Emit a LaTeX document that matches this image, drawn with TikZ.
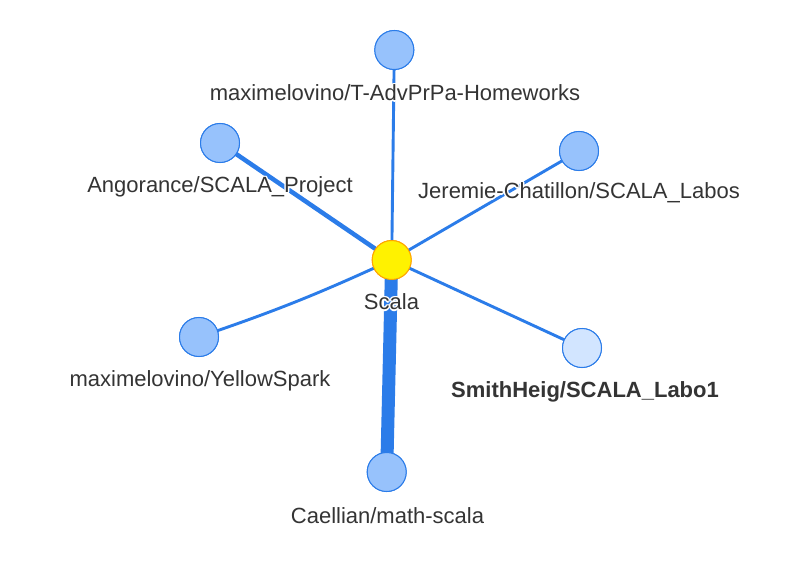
\documentclass[tikz,border=0pt]{standalone}
\usepackage{fontspec}
\setmainfont{Liberation Sans}
\definecolor{edgeblue}{HTML}{2B7CE9}
\definecolor{nodefill}{HTML}{97C2FC}
\definecolor{nodelight}{HTML}{D2E5FF}
\definecolor{txt}{HTML}{343434}
\definecolor{ybord}{HTML}{FFA500}
\tikzset{
  edge/.style={draw=edgeblue, line width=2.9pt},
  repo/.style={circle, draw=edgeblue, fill=nodefill, line width=1pt, minimum size=39pt, inner sep=0pt},
  repolight/.style={repo, fill=nodelight},
  hub/.style={circle, draw=ybord, fill=yellow, line width=1pt, minimum size=39pt, inner sep=0pt},
  lab/.style={text=txt, font=\fontsize{22}{25}\selectfont, inner sep=0pt, anchor=center},
}
\newcommand{\halolabel}[3]{%
  \foreach \dx/\dy in {1.4/0,-1.4/0,0/1.4,0/-1.4,1/1,-1/1,1/-1,-1/-1}
    \node[lab,text=white] at ([shift={(\dx pt,\dy pt)}]#2) {#3};
  \node[lab] (#1) at (#2) {#3};}
\begin{document}
\begin{tikzpicture}[x=1pt,y=-1pt]
\useasboundingbox[fill=white] (0,0) rectangle (791,561);
\coordinate (pc) at (391.7,260);
\coordinate (pt) at (394.3,50);
\coordinate (pa) at (220,143);
\coordinate (pj) at (579,151);
\coordinate (py) at (199,337);
\coordinate (ps) at (582,348);
\coordinate (pm) at (386.7,472);
% node shapes (for naming)
\node[hub] (c) at (pc) {};
\node[repo] (t) at (pt) {};
\node[repo] (a) at (pa) {};
\node[repo] (j) at (pj) {};
\node[repo] (y) at (py) {};
\node[repolight] (s) at (ps) {};
\node[repo] (m) at (pm) {};
% edges
\draw[edge] (c.center) -- (t.center);
\draw[edge, line width=4.5pt] (c.center) -- (a.center);
\draw[edge] (c.center) -- (j.center);
\draw[edge] (c.center) to[bend left=3] (y.center);
\draw[edge] (c.center) -- (s.center);
\draw[edge, line width=13pt] (c.center) -- (m.center);
% circles over edges
\node[hub] at (pc) {};
\node[repo] at (pt) {};
\node[repo] at (pa) {};
\node[repo] at (pj) {};
\node[repo] at (py) {};
\node[repolight] at (ps) {};
\node[repo] at (pm) {};
% labels
\halolabel{lt}{395,93}{maximelovino/T-AdvPrPa-Homeworks}
\halolabel{la}{220,187}{Angorance/SCALA\_Project}
\halolabel{lj}{579,193}{Jeremie-Chatillon/SCALA\_Labos}
\halolabel{lc}{391.5,302}{Scala}
\halolabel{ly}{200,381}{maximelovino/YellowSpark}
\halolabel{ls}{585,392}{\bfseries SmithHeig/SCALA\_Labo1}
\halolabel{lm}{387.5,516}{Caellian/math-scala}
\end{tikzpicture}
\end{document}
